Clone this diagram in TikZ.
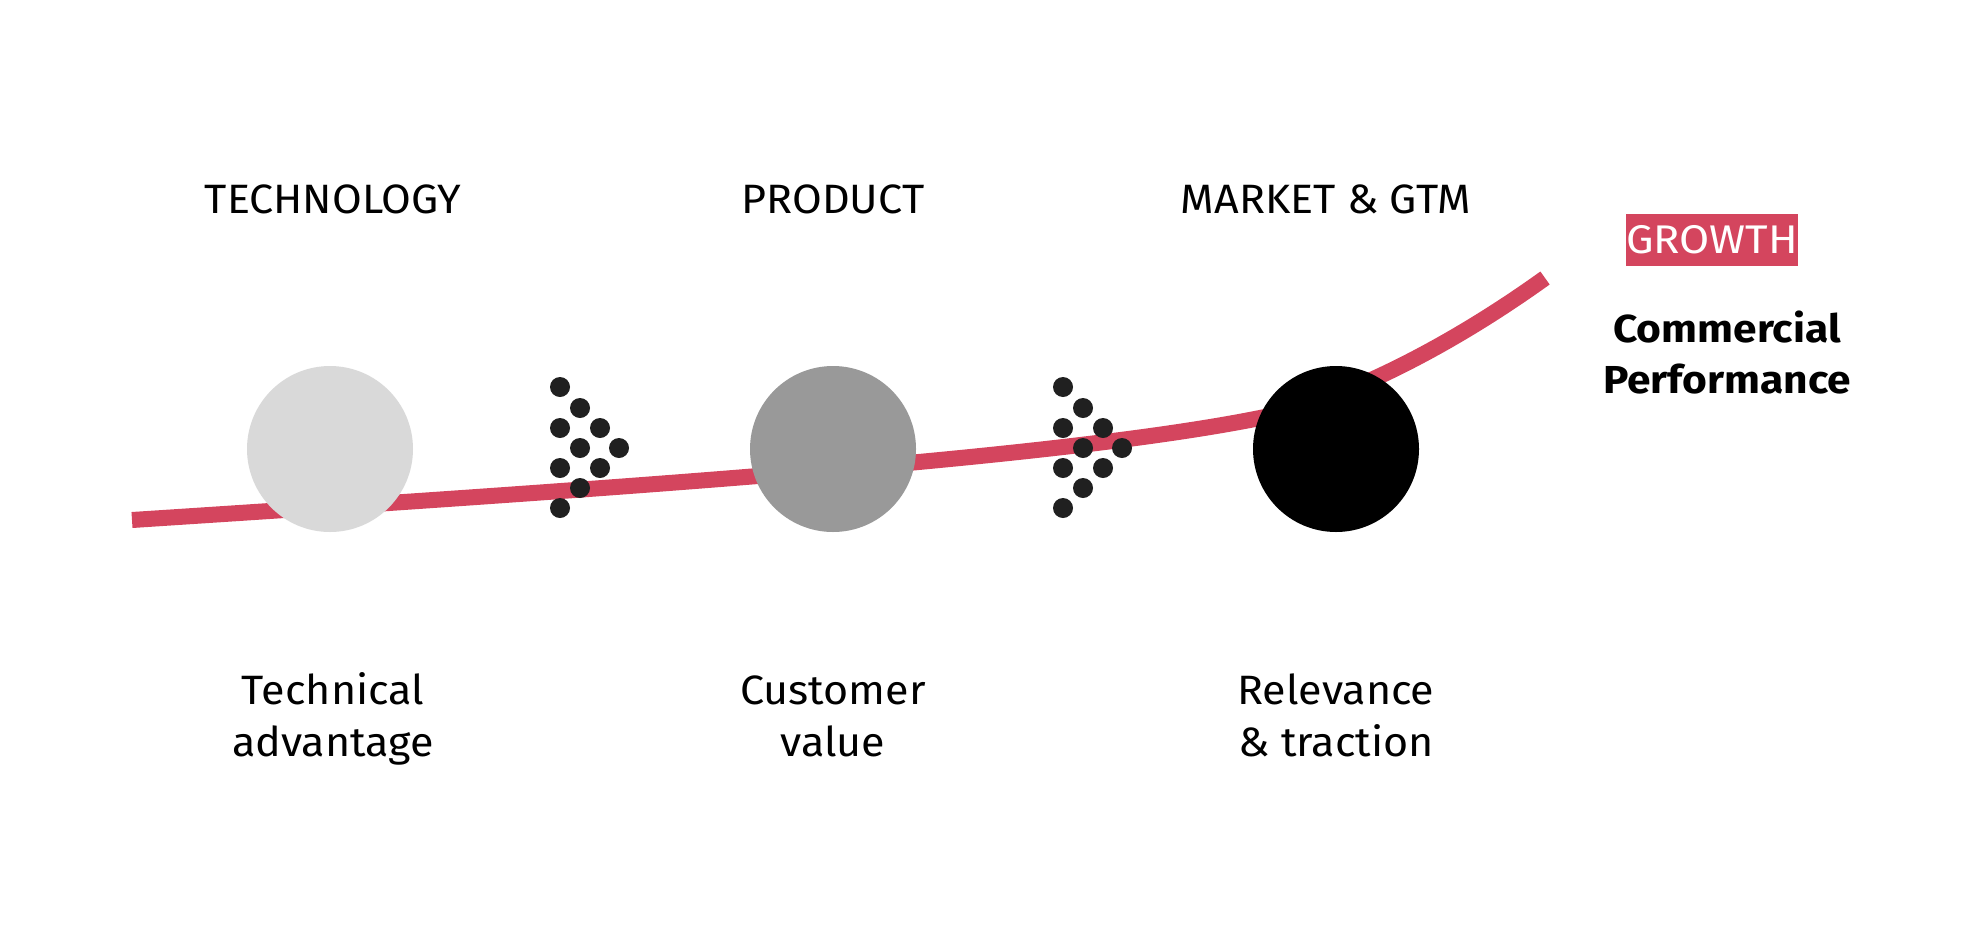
\documentclass[tikz,border=0pt]{standalone}
\usepackage{fontspec}
\setmainfont{Fira Sans}[FakeStretch=1.05,BoldFeatures={FakeStretch=1.09}]
\newfontfamily\growthfont{Fira Sans}[FakeStretch=1.09]
\definecolor{growthred}{RGB}{212,69,94}
\definecolor{light}{RGB}{217,217,217}
\definecolor{mid}{RGB}{153,153,153}
\definecolor{dotc}{RGB}{32,32,32}
\begin{document}
\begin{tikzpicture}[x=1pt,y=-1pt,
  head/.style={anchor=base,font=\fontsize{41}{52}\selectfont},
  sub/.style={anchor=base,align=center,font=\fontsize{41}{52}\selectfont},
  stage/.style={circle,minimum size=166pt,inner sep=0pt},
  dotm/.style={circle,fill=dotc,minimum size=20pt,inner sep=0pt}]
\useasboundingbox (0,0) rectangle (1972,924);
% growth curve
\coordinate (p0) at (132,520);
\coordinate (p1) at (1260,418);
\coordinate (p2) at (1545,278);
\draw[growthred,line width=16pt] (p0) .. controls (632,487.5) and (1060,458) .. (p1)
  .. controls (1330,404) and (1435,357) .. (p2);
% stage circles
\node[stage,fill=light] (c1) at (330,449) {};
\node[stage,fill=mid] (c2) at (833,449) {};
\node[stage,fill=black] (c3) at (1336,449) {};
% dot arrows
\foreach \ox/\nm in {0/a,503/b}{
  \foreach \dx/\dy/\k in {560/387/1,580/408/2,560/428/3,600/428/4,580/448/5,619/448/6,560/468/7,600/468/8,580/488/9,560/508/10}{
    \node[dotm] (\nm\k) at (\dx+\ox,\dy) {};
  }
}
% headings
\node[head] (h1) at (333,213) {TECHNOLOGY};
\node[head] (h2) at (833,213) {PRODUCT};
\node[head] (h3) at (1326,213) {MARKET \& GTM};
% growth
\node[fill=growthred,text=white,minimum width=170pt,minimum height=52pt,inner sep=0pt,font=\growthfont\fontsize{40}{48}\selectfont] (g) at (1712,240) {GROWTH};
\node[anchor=base,align=center,font=\fontsize{39}{51}\selectfont\bfseries] (cp) at (1727,393) {Commercial\\Performance};
% bottom labels
\node[sub] (s1) at (333,756) {Technical\\advantage};
\node[sub] (s2) at (833,756) {Customer\\value};
\node[sub] (s3) at (1336,756) {Relevance\\\& traction};
\end{tikzpicture}
\end{document}
